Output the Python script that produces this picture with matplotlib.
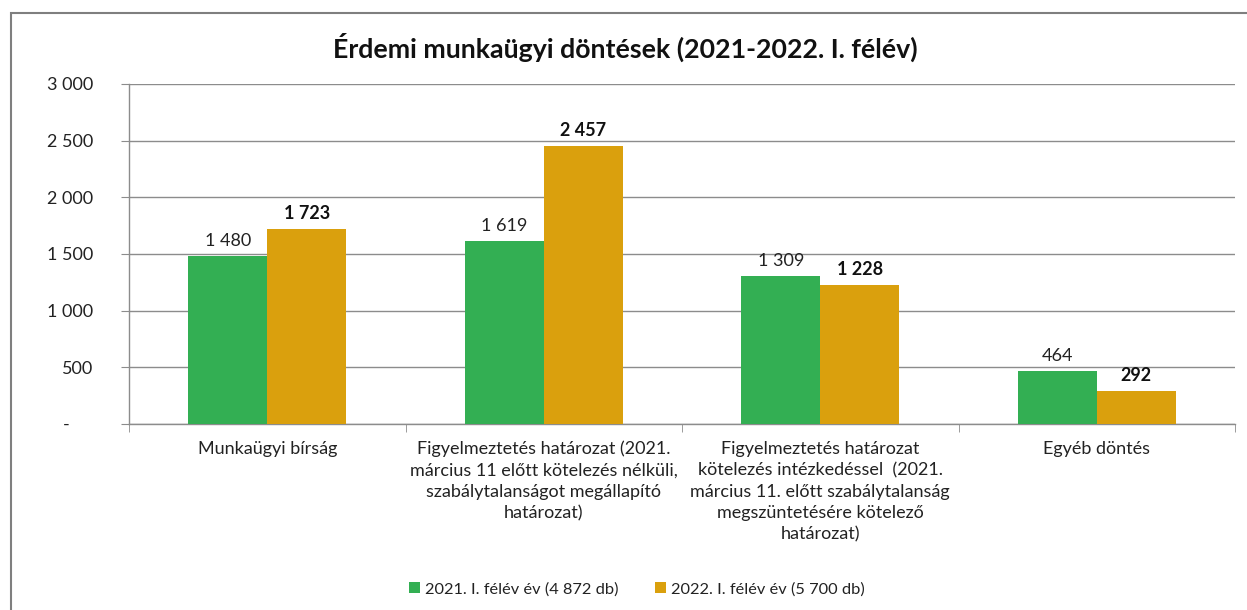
import numpy as np
import matplotlib.pyplot as plt
from matplotlib.patches import Rectangle
from matplotlib.ticker import FuncFormatter, FixedLocator

plt.rcParams['font.family'] = ['Lato', 'DejaVu Sans']

# Data
######
categories = [
    'Munkaügyi bírság',
    'Figyelmeztetés határozat (2021.\nmárcius 11 előtt kötelezés nélküli,\nszabálytalanságot megállapító\nhatározat)',
    'Figyelmeztetés határozat\nkötelezés intézkedéssel  (2021.\nmárcius 11. előtt szabálytalanság\nmegszüntetésére kötelező\nhatározat)',
    'Egyéb döntés',
]
values_2021 = [1480, 1619, 1309, 464]
values_2022 = [1723, 2457, 1228, 292]
series_names = ['2021. I. félév év (4 872 db)', '2022. I. félév év (5 700 db)']

green = '#33AF53'
orange = '#DAA00D'
grid_col = '#8C8C8C'


def hu_fmt(v):
    return f'{int(round(v)):,}'.replace(',', ' ')


def y_fmt(v, pos):
    if v == 0:
        return '-' + '\u00a0' * 5
    return hu_fmt(v)


fig = plt.figure(figsize=(12.47, 6.10), dpi=100)
ax = fig.add_axes([129 / 1247, 1 - 424 / 610, (1235 - 129) / 1247, (424 - 84) / 610])

# outer frame of the chart area (right and bottom edges fall outside the image)
frame_top = 1 - 13 / 610
fig.patches.append(Rectangle((11 / 1247, -0.2), 1.2, frame_top + 0.2,
                             transform=fig.transFigure, fill=False,
                             edgecolor='#7F7F7F', linewidth=1.5))

x = np.arange(len(categories))
w = 0.286
b1 = ax.bar(x - w / 2, values_2021, w, color=green, label=series_names[0], zorder=3)
b2 = ax.bar(x + w / 2, values_2022, w, color=orange, label=series_names[1], zorder=3)

for rect, v in zip(b1, values_2021):
    ax.annotate(hu_fmt(v), (rect.get_x() + rect.get_width() / 2, v),
                xytext=(0, 5), textcoords='offset points',
                ha='center', va='bottom', fontsize=13, color='#222222')
for rect, v in zip(b2, values_2022):
    ax.annotate(hu_fmt(v), (rect.get_x() + rect.get_width() / 2, v),
                xytext=(0, 5), textcoords='offset points',
                ha='center', va='bottom', fontsize=13, fontweight='bold',
                color='#111111')

ax.set_xlim(-0.5, len(categories) - 0.5)
ax.set_ylim(0, 3000)
ax.set_yticks(np.arange(0, 3001, 500))
ax.yaxis.set_major_formatter(FuncFormatter(y_fmt))
ax.yaxis.grid(True, color=grid_col, linewidth=1, zorder=0)
ax.set_axisbelow(True)

ax.set_xticks(x)
ax.set_xticklabels(categories, fontsize=13, color='#222222', linespacing=1.42)
ax.xaxis.set_minor_locator(FixedLocator(np.arange(-0.5, len(categories), 1)))
ax.tick_params(axis='x', which='major', length=0, pad=12)
ax.tick_params(axis='x', which='minor', length=6, color=grid_col, direction='out')
ax.tick_params(axis='y', length=6, color=grid_col, labelsize=13,
               labelcolor='#222222', pad=20)

for s in ['top', 'right']:
    ax.spines[s].set_visible(False)
for s in ['left', 'bottom']:
    ax.spines[s].set_color(grid_col)
    ax.spines[s].set_linewidth(1)

fig.text(625 / 1247, 1 - 47 / 610, 'Érdemi munkaügyi döntések (2021-2022. I. félév)',
         ha='center', va='center', fontsize=19.3, fontweight='bold', color='#111111')

fig.legend(handles=[b1, b2], labels=series_names, loc='center',
           bbox_to_anchor=(637 / 1247, 1 - 589 / 610), ncol=2, frameon=False,
           fontsize=11.8, handlelength=0.7, handleheight=0.7, handletextpad=0.3,
           columnspacing=2.2, labelcolor='#222222')

fig.savefig('out.png', dpi=100)
